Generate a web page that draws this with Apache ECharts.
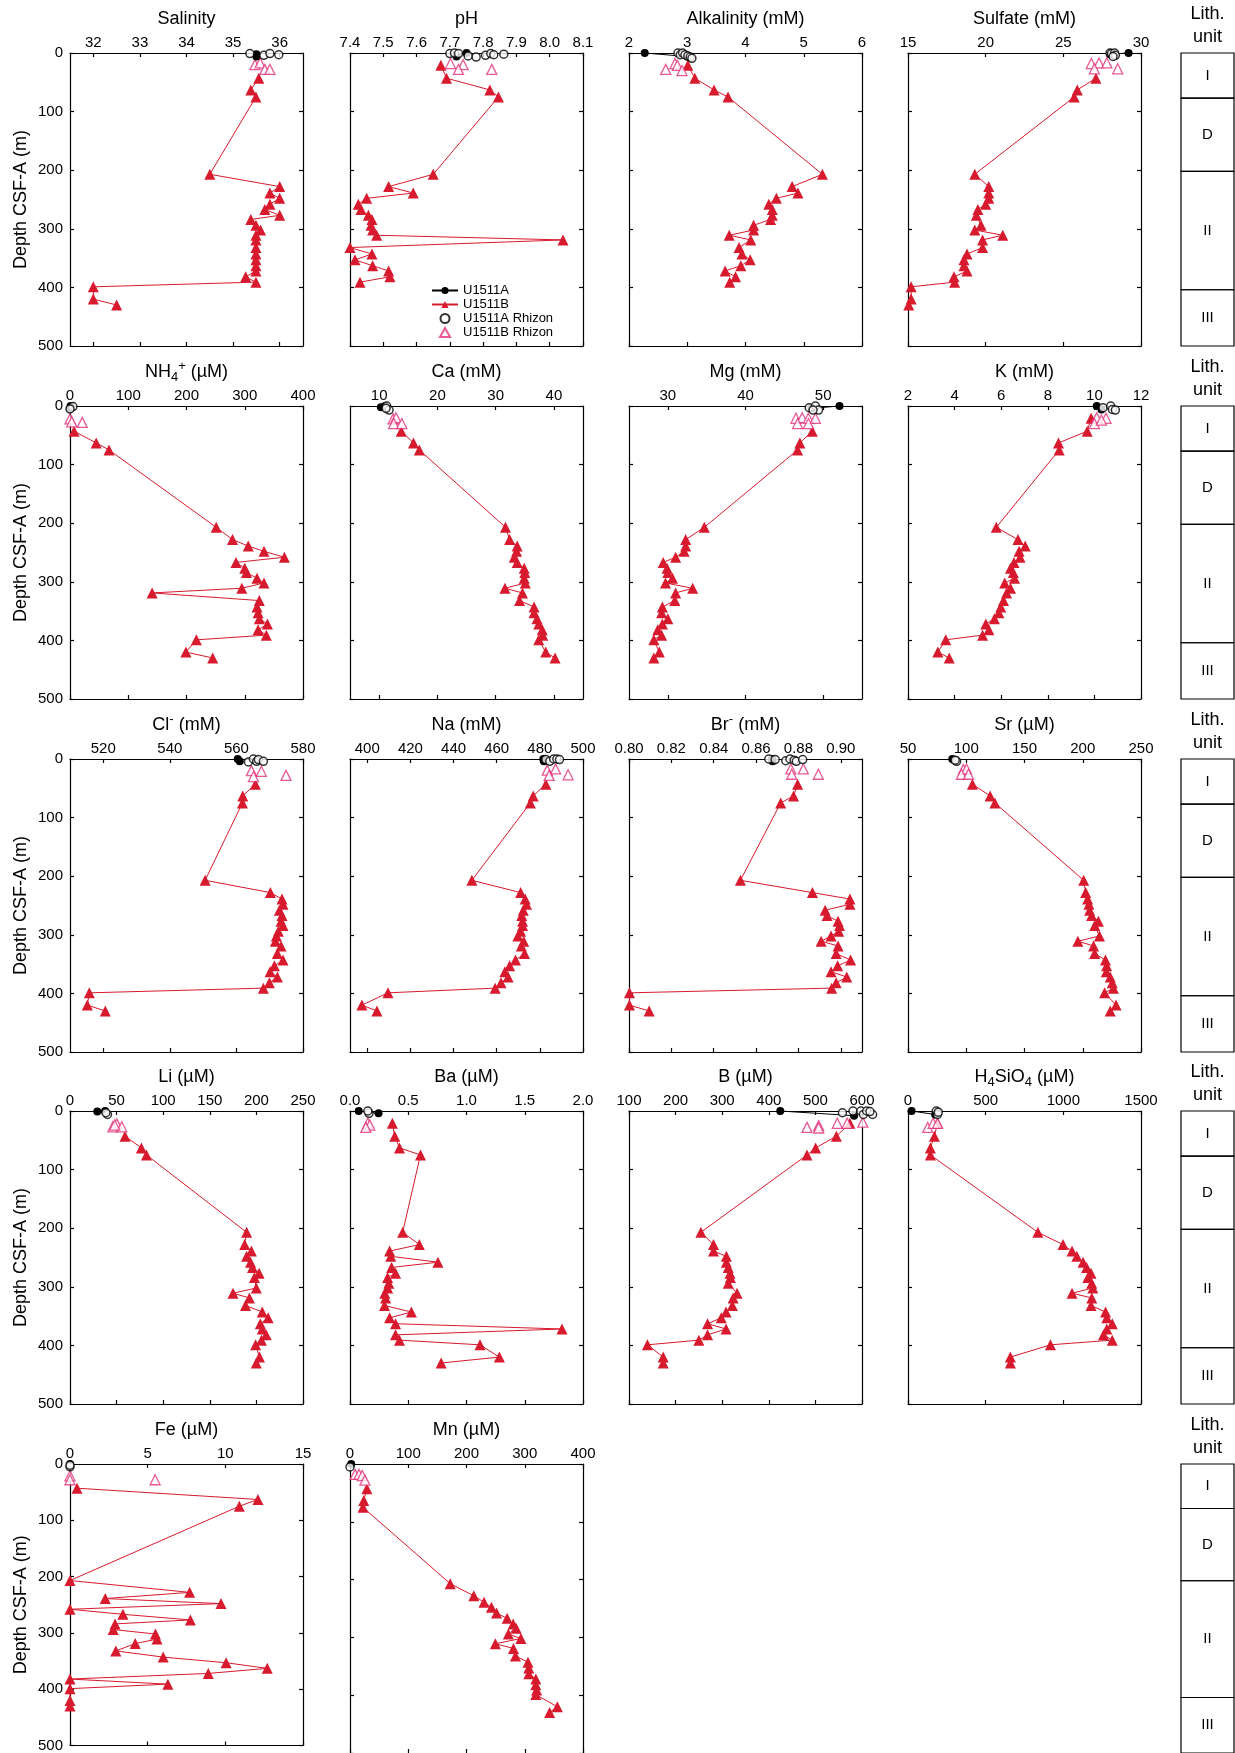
<!DOCTYPE html>
<html><head><meta charset="utf-8">
<script src="https://cdn.jsdelivr.net/npm/echarts@6/dist/echarts.min.js"></script>
<style>html,body{margin:0;padding:0;background:#fff}#c{width:1235px;height:1753px}</style>
</head><body><div id="c"></div>
<script>
// ---------------- DATA ----------------
// Common sample depths (m) of Hole U1511B squeeze samples
const depthB = [21, 43, 63, 75, 207, 228, 239, 248, 258, 267, 277, 284, 294, 302, 311, 319, 332, 343, 353, 363, 372, 382, 391, 399, 420, 430];

// Salinity
const salTicks = [32, 33, 34, 35, 36];
const salB = [null, 35.55, 35.38, 35.49, 34.5, 36.0, 35.79, 36.0, 35.79, 35.68, 36.0, 35.38, 35.49, 35.59, 35.49, 35.49, 35.49, 35.49, 35.49, 35.49, 35.49, 35.27, 35.49, 32.0, 32.0, 32.5];
const salA = [35.5, 35.5], salA_d = [2, 6];
const salRA = [35.36, 35.66, 35.79, 35.98], salRA_d = [1, 4, 1, 3];
const salRB = [35.47, 35.58, 35.68, 35.79], salRB_d = [20, 17, 28, 28];

// pH
const phTicks = [7.4, 7.5, 7.6, 7.7, 7.8, 7.9, 8.0, 8.1];
const phB = [7.673, 7.69, 7.82, 7.846, 7.65, 7.516, 7.59, 7.45, 7.425, 7.433, 7.455, 7.466, 7.463, 7.468, 7.48, 8.04, 7.40, 7.466, 7.415, 7.468, 7.516, 7.52, 7.43, null, null, null];
const phA = [7.75, 7.72], phA_d = [0, 6];
const phRA = [7.70, 7.714, 7.726, 7.755, 7.779, 7.807, 7.823, 7.832, 7.862], phRA_d = [1, 0, 1, 5, 7, 4, 1, 3, 2];
const phRB = [7.702, 7.74, 7.726, 7.826], phRB_d = [18, 20, 28, 28];

// Alkalinity (mM)
const alkTicks = [2, 3, 4, 5, 6];
const alkB = [3.01, 3.13, 3.46, 3.70, 5.32, 4.80, 4.90, 4.53, 4.40, 4.46, 4.46, 4.43, 4.14, 4.14, 3.72, 4.09, 3.89, 3.94, 4.08, 3.92, 3.65, 3.83, 3.73, null, null, null];
const alkA = [2.27, 3.0], alkA_d = [0, 6];
const alkRA = [2.84, 2.88, 2.92, 2.96, 3.01, 3.05, 3.08], alkRA_d = [0, 3, 0, 3, 5, 7, 9];
const alkRB = [2.63, 2.79, 2.83, 2.91], alkRB_d = [28, 18, 21, 30];

// Sulfate (mM)
const so4Ticks = [15, 20, 25, 30];
const so4B = [null, 27.1, 25.9, 25.7, 19.3, 20.2, 20.2, 20.2, 20.0, 19.5, 19.4, null, 19.7, 19.3, 21.1, 19.8, 19.8, 18.8, 18.6, 18.6, 18.8, 17.96, 18.0, 15.2, 15.2, 15.05];
const so4A = [28.0, 29.2], so4A_d = [2, 0];
const so4RA = [28.0, 28.1, 28.3, 28.35, 28.2], so4RA_d = [0, 1, 0, 4, 6];
const so4RB = [26.8, 27.3, 27.8, 27.0, 28.5], so4RB_d = [18, 17, 17, 27, 27];

// NH4+ (uM)
const nh4Ticks = [0, 100, 200, 300, 400];
const nh4B = [null, 7, 45, 67, 251, 279, 306, 333, 368, 285, 300, 303, 321, 333, 295, 141, 325, 321, 323, 325, 339, 323, 337, 217, 199, 245];
const nh4A = [1, 0], nh4A_d = [0, 5];
const nh4RA = [5, 0], nh4RA_d = [1, 5];
const nh4RB = [0, 3, 21], nh4RB_d = [22, 27, 28];

// Ca (mM)
const caTicks = [10, 20, 30, 40];
const caB = [null, 13.8, 15.9, 16.9, 31.7, 32.4, 33.7, 33.6, 33.2, 33.7, 34.9, 35.0, 34.9, 35.1, 31.6, 34.6, 34.1, 36.6, 36.6, 37.1, 37.4, 38.0, 38.1, 37.4, 38.6, 40.2];
const caA = [10.3, 11.0], caA_d = [2, 0];
const caRA = [11.3, 11.7, 11.2], caRA_d = [0, 7, 4];
const caRB = [12.4, 12.9, 12.5, 13.9], caRB_d = [22, 20, 30, 30];

// Mg (mM)
const mgTicks = [30, 40, 50];
const mgB = [null, 48.6, 47.0, 46.7, 34.7, 32.3, 32.3, 32.1, 31.0, 29.4, 29.9, 30.0, 30.6, 29.7, 33.2, 31.0, 30.9, 29.3, 29.2, 30.0, 29.3, 28.7, 29.2, 28.2, 28.9, 28.2];
const mgA = [48.5, 52.1], mgA_d = [4, 0];
const mgRA = [48.2, 49.0, 49.4, 48.7], mgRA_d = [3, 0, 7, 7];
const mgRB = [46.5, 47.3, 48.1, 49.0, 46.7, 48.1], mgRB_d = [21, 20, 21, 21, 30, 30];

// K (mM)
const kTicks = [2, 4, 6, 8, 10, 12];
const kB = [9.86, 9.69, 8.46, 8.49, 5.79, 6.72, 7.03, 6.77, 6.81, 6.55, 6.40, 6.52, 6.57, 6.15, 6.40, 6.23, 6.10, 5.98, 5.90, 5.71, 5.34, 5.47, 5.20, 3.62, 3.28, 3.77];
const kA = [10.1, 10.3], kA_d = [0, 6];
const kRA = [10.37, 10.7, 10.77, 10.9], kRA_d = [3, 0, 6, 7];
const kRB = [10.1, 10.5, 10.0, 10.3], kRB_d = [20, 21, 30, 24];

// Cl- (mM)
const clTicks = [520, 540, 560, 580];
const clB = [null, 565.7, 561.9, 561.8, 550.6, 570.2, 573.7, 574.0, 572.9, 573.7, 573.4, 574.0, 572.6, 572.0, 571.7, 573.4, 572.3, 574.0, 571.4, 570.1, 572.3, 569.9, 568.1, 515.8, 515.2, 520.6];
const clA = [560.4, 561.0], clA_d = [0, 4];
const clRA = [563.6, 565.1, 566.1, 566.6, 568.1], clRA_d = [5, 0, 4, 1, 4];
const clRB = [564.5, 567.5, 565.1, 574.9], clRB_d = [20, 21, 30, 28];

// Na (mM)
const naTicks = [400, 420, 440, 460, 480, 500];
const naB = [null, 482.8, 476.9, 475.6, 448.5, 471.1, 473.2, 473.8, 472.3, 471.6, 472.0, 472.0, 471.1, 469.8, 472.5, 471.4, 472.9, 468.7, 466.0, 463.8, 465.3, 462.0, 459.3, 409.6, 397.5, 404.5];
const naA = [481.6, 481.9], naA_d = [0, 4];
const naRA = [482.8, 484.6, 486.4, 487.9, 489.1], naRA_d = [1, 4, 0, 0, 1];
const naRB = [483.4, 487.3, 484.3, 493.1], naRB_d = [19, 17, 28, 27];

// Br- (mM)
const brTicks = [0.80, 0.82, 0.84, 0.86, 0.88, 0.90];
const brB = [null, 0.8796, 0.8777, 0.8716, 0.8526, 0.8866, 0.9043, 0.9043, 0.8926, 0.8935, 0.8987, 0.8994, 0.8990, 0.8954, 0.8907, 0.8987, 0.8978, 0.9046, 0.8985, 0.8954, 0.9028, 0.8978, 0.8957, 0.8002, 0.8002, 0.8095];
const brA = [0.8675, 0.8678], brA_d = [0, 4];
const brRA = [0.866, 0.869, 0.874, 0.876, 0.878, 0.879, 0.882], brRA_d = [0, 1, 3, 0, 2, 4, 1];
const brRB = [0.8764, 0.8823, 0.8768, 0.8894], brRB_d = [17, 17, 26, 26];

// Sr (uM)
const srTicks = [50, 100, 150, 200, 250];
const srB = [null, 105.3, 120.5, 124.6, 200.8, 202.5, 204.2, 205.3, 205.9, 207.6, 213.4, 210.3, null, 214.4, 195.8, 209.3, 210.2, 219.5, 220.5, 220.2, 223.6, 225.3, 226.3, 218.8, 228.6, 223.6];
const srA = [88.0, 89.7], srA_d = [0, 2];
const srRA = [91.7, 90.5], srRA_d = [4, 2];
const srRB = [97.5, 100.2, 95.8, 101.9], srRB_d = [18, 17, 26, 26];

// Li (uM)
const liTicks = [0, 50, 100, 150, 200, 250];
const liB = [null, 59.0, 76.6, 82.0, 189.5, 187.4, 194.6, 189.5, 193.7, 195.8, 202.9, 197.9, null, 199.9, 174.9, 192.5, 188.3, 206.3, 212.6, 204.2, 206.3, 210.5, 205.4, 199.2, 203.3, 199.9];
const liA = [29.3, 37.7], liA_d = [1, 0];
const liRA = [40.2, 38.5], liRA_d = [6, 3];
const liRB = [50.2, 46.0, 55.6, 48.0], liRB_d = [22, 27, 27, 24];

// Ba (uM)
const baTicks = [0, 0.5, 1.0, 1.5, 2.0];
const baB = [0.364, 0.384, 0.425, 0.605, 0.452, 0.595, 0.340, 0.350, 0.755, 0.357, 0.391, 0.323, 0.333, 0.323, 0.299, 0.306, 0.296, 0.527, 0.340, 0.391, 1.820, 0.391, 0.425, 1.116, 1.282, 0.782];
const baA = [0.075, 0.245], baA_d = [0, 4];
const baRA = [0.163, 0.153], baRA_d = [4, 0];
const baRB = [0.153, 0.17, 0.136], baRB_d = [21, 24, 28];

// B (uM)
const boTicks = [100, 200, 300, 400, 500, 600];
const boB = [573.9, 545, 500.5, 482, 254.3, 281.3, 281.3, 309, 309, 313, 316.7, 317.5, 313, null, 331.9, 323.4, 321.8, 308.3, 298, 268.6, 308.3, 268.6, 250, 139.6, 173.4, 173.4];
const boA = [424.6, 583], boA_d = [0, 8];
const boRA = [558, 580.6, 597.5, 603, 610, 622.8, 617], boRA_d = [3, 0, 0, 6, 0, 6, 1];
const boRB = [482, 507, 507, 547, 568, 601.7], boRB_d = [28, 25, 29, 21, 21, 19];

// H4SiO4 (uM)
const siTicks = [0, 500, 1000, 1500];
const siB = [190, 170, 144, 144, 836, 998, 1056, 1087, 1127, 1150, 1178, 1158, 1183, 1190, 1056, 1183, 1178, 1272, 1280, 1315, 1280, 1259, 1315, 917, 659, 659];
const siA = [23, 175], siA_d = [0, 6];
const siRA = [182, 190, 195], siRA_d = [0, 6, 2];
const siRB = [127, 162, 190], siRB_d = [28, 21, 21];

// Fe (uM)
const feTicks = [0, 5, 10, 15];
const feB = [null, 0.45, 12.1, 10.9, 0, 7.7, 2.27, 9.72, 0, 3.41, 7.75, 2.9, 2.78, 5.5, 5.6, 4.2, 2.95, 6.0, 10.05, 12.7, 8.9, 0, 6.3, 0, 0, 0];
const feA = [0], feA_d = [0];
const feRA = [0, 0], feRA_d = [5, 2];
const feRB = [0, 0, 5.48], feRB_d = [21, 28, 28];

// Mn (uM)
const mnTicks = [0, 100, 200, 300, 400];
const mnB = [null, 29, 23.6, 22.3, 172, 212.5, 230, 242.8, 251.6, 269.8, 280, 285.3, 271.8, 293.4, 249.6, 280.6, 284, 305.6, 307, 307, 319, 319, 320.4, 319, 356, 342.7];
const mnA = [2], mnA_d = [0];
const mnRA = [0], mnRA_d = [5];
const mnRB = [8.8, 15.5, 21, 25.6], mnRB_d = [18, 18, 20, 28];

// Lithologic units
const lithTop = [0, 77, 202, 404];
const lithBottom = [77, 202, 404, 500];
const lithName = ['I', 'D', 'II', 'III'];

// ---------------- PANELS ----------------
const panels = [
  {t: '{m|Salinity}', min: 31.5, max: 36.5, ticks: salTicks, dec: 0, B: salB, A: salA, Ad: salA_d, RA: salRA, RAd: salRA_d, RB: salRB, RBd: salRB_d},
  {t: '{m|pH}', min: 7.4, max: 8.1, ticks: phTicks, dec: 1, B: phB, A: phA, Ad: phA_d, RA: phRA, RAd: phRA_d, RB: phRB, RBd: phRB_d},
  {t: '{m|Alkalinity (mM)}', min: 2, max: 6, ticks: alkTicks, dec: 0, B: alkB, A: alkA, Ad: alkA_d, RA: alkRA, RAd: alkRA_d, RB: alkRB, RBd: alkRB_d},
  {t: '{m|Sulfate (mM)}', min: 15, max: 30, ticks: so4Ticks, dec: 0, B: so4B, A: so4A, Ad: so4A_d, RA: so4RA, RAd: so4RA_d, RB: so4RB, RBd: so4RB_d},
  {t: '{m|NH}{sub|4}{sup|+}{m| (µM)}', min: 0, max: 400, ticks: nh4Ticks, dec: 0, B: nh4B, A: nh4A, Ad: nh4A_d, RA: nh4RA, RAd: nh4RA_d, RB: nh4RB, RBd: nh4RB_d},
  {t: '{m|Ca (mM)}', min: 5, max: 45, ticks: caTicks, dec: 0, B: caB, A: caA, Ad: caA_d, RA: caRA, RAd: caRA_d, RB: caRB, RBd: caRB_d},
  {t: '{m|Mg (mM)}', min: 25, max: 55, ticks: mgTicks, dec: 0, B: mgB, A: mgA, Ad: mgA_d, RA: mgRA, RAd: mgRA_d, RB: mgRB, RBd: mgRB_d},
  {t: '{m|K (mM)}', min: 2, max: 12, ticks: kTicks, dec: 0, B: kB, A: kA, Ad: kA_d, RA: kRA, RAd: kRA_d, RB: kRB, RBd: kRB_d},
  {t: '{m|Cl}{sup|-}{m| (mM)}', min: 510, max: 580, ticks: clTicks, dec: 0, B: clB, A: clA, Ad: clA_d, RA: clRA, RAd: clRA_d, RB: clRB, RBd: clRB_d},
  {t: '{m|Na (mM)}', min: 392, max: 500, ticks: naTicks, dec: 0, B: naB, A: naA, Ad: naA_d, RA: naRA, RAd: naRA_d, RB: naRB, RBd: naRB_d},
  {t: '{m|Br}{sup|-}{m| (mM)}', min: 0.80, max: 0.91, ticks: brTicks, dec: 2, B: brB, A: brA, Ad: brA_d, RA: brRA, RAd: brRA_d, RB: brRB, RBd: brRB_d},
  {t: '{m|Sr (µM)}', min: 50, max: 250, ticks: srTicks, dec: 0, B: srB, A: srA, Ad: srA_d, RA: srRA, RAd: srRA_d, RB: srRB, RBd: srRB_d},
  {t: '{m|Li (µM)}', min: 0, max: 250, ticks: liTicks, dec: 0, B: liB, A: liA, Ad: liA_d, RA: liRA, RAd: liRA_d, RB: liRB, RBd: liRB_d},
  {t: '{m|Ba (µM)}', min: 0, max: 2, ticks: baTicks, dec: 1, B: baB, A: baA, Ad: baA_d, RA: baRA, RAd: baRA_d, RB: baRB, RBd: baRB_d},
  {t: '{m|B (µM)}', min: 100, max: 600, ticks: boTicks, dec: 0, B: boB, A: boA, Ad: boA_d, RA: boRA, RAd: boRA_d, RB: boRB, RBd: boRB_d},
  {t: '{m|H}{sub|4}{m|SiO}{sub|4}{m| (µM)}', min: 0, max: 1500, ticks: siTicks, dec: 0, B: siB, A: siA, Ad: siA_d, RA: siRA, RAd: siRA_d, RB: siRB, RBd: siRB_d},
  {t: '{m|Fe (µM)}', min: 0, max: 15, ticks: feTicks, dec: 0, B: feB, A: feA, Ad: feA_d, RA: feRA, RAd: feRA_d, RB: feRB, RBd: feRB_d},
  {t: '{m|Mn (µM)}', min: 0, max: 400, ticks: mnTicks, dec: 0, B: mnB, A: mnA, Ad: mnA_d, RA: mnRA, RAd: mnRA_d, RB: mnRB, RBd: mnRB_d}
];

// ---------------- LAYOUT / STYLE ----------------
const FONT = '"Liberation Sans", Arial, Helvetica, sans-serif';
const colX = [70, 350, 629, 908];
const rowY = [53, 406, 759, 1111, 1464];
const W = 233, H = 293;
const LITH_X = 1181, LITH_W = 53;
const RED = '#d71a2e', PINK = '#e2307a', BLACK = '#000';
const AXW = 1.2;

function pairs(vals, depths) {
  const out = [];
  vals.forEach((v, k) => { if (v !== null && v !== undefined) out.push([v, depths[k]]); });
  return out;
}

const grid = [], xAxis = [], yAxis = [], series = [], graphic = [];
const richStyles = {
  m: {fontSize: 18, lineHeight: 24, verticalAlign: 'middle', fontFamily: FONT, fill: '#000'},
  sub: {fontSize: 13, lineHeight: 13, verticalAlign: 'bottom', fontFamily: FONT, fill: '#000'},
  sup: {fontSize: 13, lineHeight: 13, verticalAlign: 'top', fontFamily: FONT, fill: '#000'}
};

panels.forEach((p, i) => {
  const r = Math.floor(i / 4), c = i % 4;
  const gi = grid.length;
  grid.push({left: colX[c], top: rowY[r], width: W, height: H, show: false});
  const axLine = {show: true, onZero: false, lineStyle: {color: BLACK, width: AXW}};
  const fmt = v => Number(v).toFixed(p.dec);
  xAxis.push({gridIndex: gi, type: 'value', position: 'top', min: p.min, max: p.max,
    axisLine: axLine,
    axisTick: {show: true, inside: true, length: 4, customValues: p.ticks, lineStyle: {color: BLACK, width: AXW}},
    axisLabel: {show: true, customValues: p.ticks, formatter: fmt, margin: 3, fontSize: 15, color: BLACK, fontFamily: FONT},
    splitLine: {show: false}});
  xAxis.push({gridIndex: gi, type: 'value', position: 'bottom', min: p.min, max: p.max,
    axisLine: axLine,
    axisTick: {show: true, inside: true, length: 4, customValues: p.ticks, lineStyle: {color: BLACK, width: AXW}},
    axisLabel: {show: false}, splitLine: {show: false}});
  const yl = {gridIndex: gi, type: 'value', inverse: true, min: 0, max: 500, interval: 100, position: 'left',
    axisLine: axLine,
    axisTick: {show: true, inside: true, length: 4, lineStyle: {color: BLACK, width: AXW}},
    axisLabel: {show: c === 0, margin: 7, fontSize: 15, color: BLACK, fontFamily: FONT},
    splitLine: {show: false}};
  if (c === 0) {
    yl.name = 'Depth CSF-A (m)';
    yl.nameLocation = 'middle';
    yl.nameGap = 40;
    yl.nameTextStyle = {fontSize: 18, color: BLACK, fontFamily: FONT};
  }
  yAxis.push(yl);
  yAxis.push({gridIndex: gi, type: 'value', inverse: true, min: 0, max: 500, interval: 100, position: 'right',
    axisLine: axLine,
    axisTick: {show: true, inside: true, length: 4, lineStyle: {color: BLACK, width: AXW}},
    axisLabel: {show: false}, splitLine: {show: false}});
  const xi = gi * 2, yi = gi * 2;
  series.push({name: 'U1511B', type: 'line', xAxisIndex: xi, yAxisIndex: yi, data: pairs(p.B, depthB),
    symbol: 'triangle', symbolSize: 11, clip: false, z: 3,
    itemStyle: {color: RED}, lineStyle: {color: RED, width: 1}});
  series.push({name: 'U1511B Rhizon', type: 'scatter', xAxisIndex: xi, yAxisIndex: yi, data: pairs(p.RB, p.RBd),
    symbol: 'triangle', symbolSize: 10, clip: false, z: 4,
    itemStyle: {color: '#fff', borderColor: PINK, borderWidth: 1.3}});
  series.push({name: 'U1511A', type: 'line', xAxisIndex: xi, yAxisIndex: yi, data: pairs(p.A, p.Ad),
    symbol: 'circle', symbolSize: 8, clip: false, z: 5,
    itemStyle: {color: BLACK}, lineStyle: {color: BLACK, width: 1}});
  series.push({name: 'U1511A Rhizon', type: 'scatter', xAxisIndex: xi, yAxisIndex: yi, data: pairs(p.RA, p.RAd),
    symbol: 'circle', symbolSize: 8, clip: false, z: 6,
    itemStyle: {color: '#fff', borderColor: BLACK, borderWidth: 1.5}});
  graphic.push({type: 'text', silent: true, x: colX[c] + W / 2, y: rowY[r] - 34,
    style: {text: p.t, rich: richStyles, align: 'center', verticalAlign: 'middle', fontFamily: FONT, fontSize: 18, fill: '#000'}});
});

// Lithology columns
rowY.forEach((top) => {
  const gi = grid.length;
  grid.push({left: LITH_X, top: top, width: LITH_W, height: H, show: false});
  xAxis.push({gridIndex: gi, type: 'value', min: 0, max: 1, show: false});
  xAxis.push({gridIndex: gi, type: 'value', min: 0, max: 1, show: false});
  yAxis.push({gridIndex: gi, type: 'value', inverse: true, min: 0, max: 500, show: false});
  yAxis.push({gridIndex: gi, type: 'value', inverse: true, min: 0, max: 500, show: false});
  series.push({type: 'custom', xAxisIndex: gi * 2, yAxisIndex: gi * 2, clip: false, silent: true,
    data: lithTop.map((t, k) => [t, lithBottom[k], k]),
    renderItem: (params, api) => {
      const p0 = api.coord([0, api.value(0)]);
      const p1 = api.coord([1, api.value(1)]);
      return {type: 'group', children: [
        {type: 'rect', shape: {x: p0[0], y: p0[1], width: p1[0] - p0[0], height: p1[1] - p0[1]},
          style: {fill: 'none', stroke: BLACK, lineWidth: AXW}},
        {type: 'text', style: {text: lithName[api.value(2)], x: (p0[0] + p1[0]) / 2, y: (p0[1] + p1[1]) / 2,
          align: 'center', verticalAlign: 'middle', fontSize: 15, fontFamily: FONT, fill: BLACK}}
      ]};
    }});
  graphic.push({type: 'text', silent: true, x: LITH_X + LITH_W / 2, y: top - 39,
    style: {text: 'Lith.', align: 'center', verticalAlign: 'middle', fontSize: 18, fontFamily: FONT, fill: '#000'}});
  graphic.push({type: 'text', silent: true, x: LITH_X + LITH_W / 2, y: top - 16,
    style: {text: 'unit', align: 'center', verticalAlign: 'middle', fontSize: 18, fontFamily: FONT, fill: '#000'}});
});

const chart = echarts.init(document.getElementById('c'), null, {renderer: 'canvas'});
chart.setOption({
  animation: false,
  backgroundColor: '#fff',
  textStyle: {fontFamily: FONT},
  grid, xAxis, yAxis, series, graphic,
  legend: {show: true, left: 426, top: 279, orient: 'vertical', selectedMode: false,
    itemWidth: 26, itemHeight: 9, itemGap: 1, symbolKeepAspect: true,
    data: [
      {name: 'U1511A'},
      {name: 'U1511B'},
      {name: 'U1511A Rhizon'},
      {name: 'U1511B Rhizon', icon: 'path://M5,0L10,9L0,9Z'}
    ],
    textStyle: {fontSize: 13, color: BLACK, fontFamily: FONT, lineHeight: 13}}
});
</script>
</body></html>
